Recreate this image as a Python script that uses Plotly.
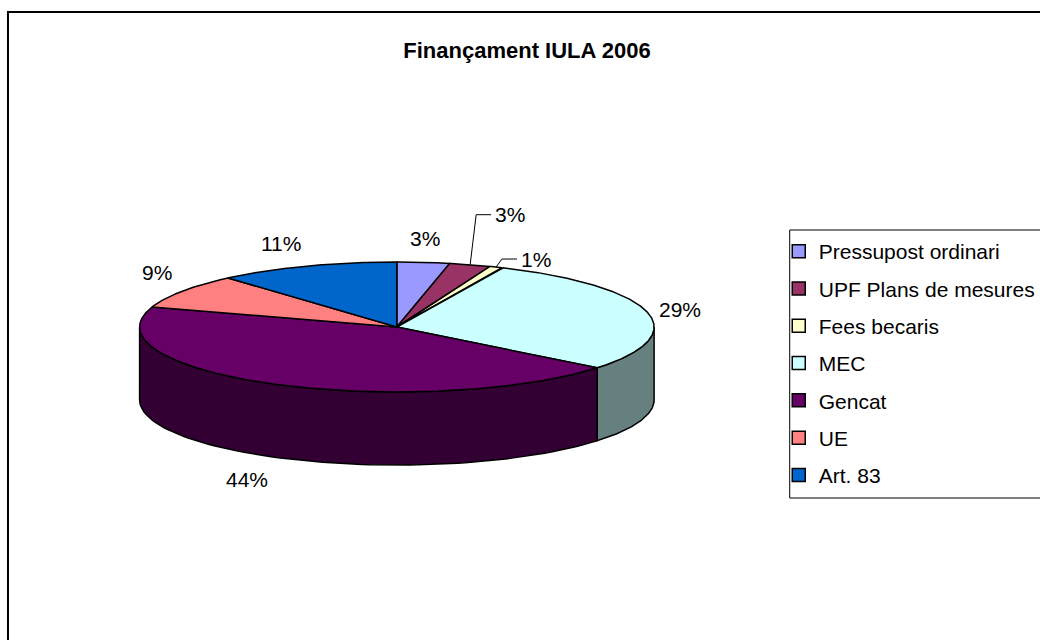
import numpy as np
import plotly.graph_objects as go

# ---------------- data ----------------
categories = ["Pressupost ordinari", "UPF Plans de mesures", "Fees becaris",
              "MEC", "Gencat", "UE", "Art. 83"]
values = [3.3, 2.6, 0.8, 29.1, 44.2, 8.6, 11.4]
colors = ["#9999FF", "#993366", "#FFFFCC", "#CCFFFF", "#660066", "#FF8080", "#0066CC"]
title_text = "Finançament IULA 2006"

# ---------------- layout parameters (pixels) ----------------
W, H = 1040, 640
CX, CY, RX, RY, DEPTH = 398, 327, 258, 65, 73
FONT = "Arial, Liberation Sans, sans-serif"
LABEL_SIZE = 21
# slices whose labels are moved out with a leader line: index -> (dx, dy) of elbow
leader = {1: (6, -50), 2: (6, -8)}


def darker(hexc, f=0.5):
    h = hexc.lstrip("#")
    r, g, b = (int(h[i:i + 2], 16) for i in (0, 2, 4))
    return "rgb(%d,%d,%d)" % (r * f, g * f, b * f)


def pt(t, dy=0.0):
    t = np.asarray(t, dtype=float)
    return CX + RX * np.sin(t), CY - RY * np.cos(t) + dy


total = float(sum(values))
cum = np.concatenate([[0.0], np.cumsum(values) / total])
ang = cum * 2 * np.pi  # clockwise from 12 o'clock

fig = go.Figure()

# side walls (front half only)
for i, c in enumerate(colors):
    a = max(ang[i], np.pi / 2)
    b = min(ang[i + 1], 3 * np.pi / 2)
    if a < b:
        ts = np.linspace(a, b, 80)
        xt, yt = pt(ts)
        xb, yb = pt(ts[::-1], DEPTH)
        xs = np.concatenate([xt, xb, xt[:1]])
        ys = np.concatenate([yt, yb, yt[:1]])
        fig.add_trace(go.Scatter(x=xs, y=ys, mode="lines", fill="toself",
                                 fillcolor=darker(c), line=dict(color="black", width=1.5),
                                 hoverinfo="skip", showlegend=False))

# top faces
for i, c in enumerate(colors):
    ts = np.linspace(ang[i], ang[i + 1], max(4, int(200 * (ang[i + 1] - ang[i]))))
    xa, ya = pt(ts)
    xs = np.concatenate([[CX], xa, [CX]])
    ys = np.concatenate([[CY], ya, [CY]])
    fig.add_trace(go.Scatter(x=xs, y=ys, mode="lines", fill="toself",
                             fillcolor=c, line=dict(color="black", width=1.5),
                             name=categories[i], hoverinfo="name", showlegend=False))

# legend entries
for cat, c in zip(categories, colors):
    fig.add_trace(go.Scatter(x=[None], y=[None], mode="markers", name=cat, legendgroup=cat,
                             marker=dict(symbol="square", size=13, color=c,
                                         line=dict(color="black", width=1.5))))

# percentage labels
annotations = []
for i, v in enumerate(values):
    pct = "%d%%" % int(v / total * 100 + 0.5)
    tm = (ang[i] + ang[i + 1]) / 2
    s, co = np.sin(tm), np.cos(tm)
    if i in leader:
        ex, ey = pt(tm)
        dx, dy = leader[i]
        kx, ky = ex + dx, ey + dy
        fig.add_trace(go.Scatter(x=[ex, kx, kx + 15], y=[ey, ky, ky], mode="lines",
                                 line=dict(color="black", width=1), hoverinfo="skip",
                                 showlegend=False))
        annotations.append(dict(x=kx + 17, y=ky, text=pct, showarrow=False,
                                xref="x", yref="y", xanchor="left", yanchor="middle",
                                font=dict(family=FONT, size=LABEL_SIZE, color="black")))
        continue
    g = 10
    px = CX + (RX + g) * s
    py = CY - (RY + g) * co + (DEPTH if co < 0 else 0)
    xanchor = "left" if s > 0.3 else ("right" if s < -0.3 else "center")
    yanchor = "bottom" if co > 0.3 else ("top" if co < -0.3 else "middle")
    annotations.append(dict(x=px, y=py, text=pct, showarrow=False, xref="x", yref="y",
                            xanchor=xanchor, yanchor=yanchor,
                            font=dict(family=FONT, size=LABEL_SIZE, color="black")))

fig.update_layout(
    width=W, height=H,
    margin=dict(l=0, r=0, t=0, b=0),
    paper_bgcolor="white", plot_bgcolor="white",
    xaxis=dict(range=[0, W], visible=False, fixedrange=True, domain=[0, 1]),
    yaxis=dict(range=[H, 0], visible=False, fixedrange=True, domain=[0, 1]),
    title=dict(text="<b>%s</b>" % title_text, x=527 / W, y=1 - 50 / H,
               xanchor="center", yanchor="middle",
               font=dict(family=FONT, size=22, color="black")),
    legend=dict(x=781 / W, y=1 - 231 / H, xanchor="left", yanchor="top",
                borderwidth=0, bgcolor="rgba(0,0,0,0)",
                font=dict(family=FONT, size=21, color="black"),
                tracegroupgap=7, traceorder="grouped", itemwidth=30),
    annotations=annotations,
    shapes=[
        dict(type="rect", xref="paper", yref="paper", x0=8 / W, x1=1.01,
             y0=-0.01, y1=1 - 12 / H, line=dict(color="black", width=2), layer="above"),
        dict(type="rect", xref="paper", yref="paper", x0=792 / W, x1=1.01,
             y0=1 - 498 / H, y1=1 - 230 / H, line=dict(color="black", width=1),
             layer="below"),
    ],
    showlegend=True,
)

fig.write_html("out.html", config={"displayModeBar": False},
               post_script="document.body.style.margin='0px';")
